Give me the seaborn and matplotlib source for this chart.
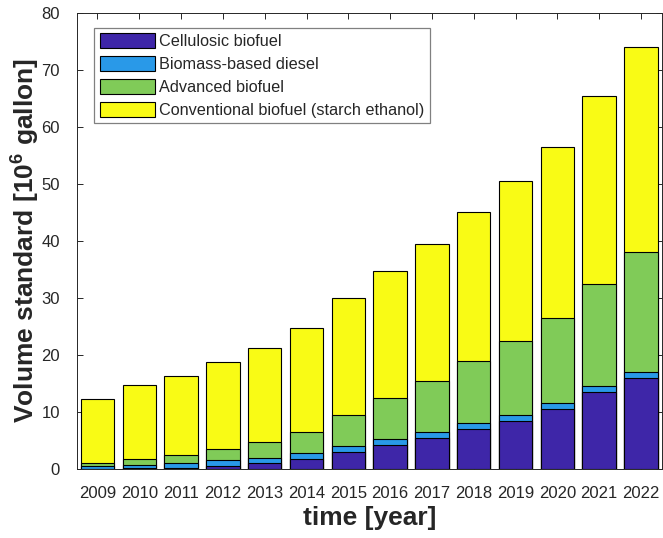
import numpy as np
import pandas as pd
import seaborn as sns
import matplotlib
import matplotlib.pyplot as plt
from matplotlib.patches import Patch

matplotlib.use('Agg')

# volume standards per year [10^6 gallon]
years = ['2009', '2010', '2011', '2012', '2013', '2014', '2015',
         '2016', '2017', '2018', '2019', '2020', '2021', '2022']
cellulosic = [0.0, 0.1, 0.25, 0.5, 1.0, 1.75, 3.0, 4.25, 5.5, 7.0, 8.5, 10.5, 13.5, 16.0]
biomass_diesel = [0.5, 0.65, 0.8, 1.0, 1.0, 1.0, 1.0, 1.0, 1.0, 1.0, 1.0, 1.0, 1.0, 1.0]
advanced = [0.6, 0.95, 1.35, 2.0, 2.75, 3.75, 5.5, 7.25, 9.0, 11.0, 13.0, 15.0, 18.0, 21.0]
conventional = [11.1, 12.95, 13.95, 15.2, 16.55, 18.15, 20.5, 22.25, 24.0, 26.0, 28.0, 30.0, 33.0, 36.0]

labels = ['Cellulosic biofuel', 'Biomass-based diesel', 'Advanced biofuel',
          'Conventional biofuel (starch ethanol)']
colors = ['#3e26a8', '#2999e8', '#80cb58', '#f9fb15']

sns.set_theme(style='ticks')
plt.rcParams['font.family'] = ['Liberation Sans', 'DejaVu Sans']
plt.rcParams['mathtext.fontset'] = 'custom'
plt.rcParams['mathtext.rm'] = 'Liberation Sans'
plt.rcParams['mathtext.bf'] = 'Liberation Sans:bold'

df = pd.DataFrame({'year': years, 'cel': cellulosic, 'bbd': biomass_diesel,
                   'adv': advanced, 'conv': conventional})
stack = df[['cel', 'bbd', 'adv', 'conv']].cumsum(axis=1)

fig = plt.figure(figsize=(6.63, 5.38), dpi=100)
ax = fig.add_axes([0.1154, 0.1283, 0.883, 0.8475])

# draw tallest layer first, then smaller cumulative layers on top
for col, c in reversed(list(zip(stack.columns, colors))):
    sns.barplot(x=df['year'], y=stack[col], color=c, saturation=1, width=0.8,
                edgecolor='black', linewidth=0.8, errorbar=None, ax=ax)

ax.set_xlim(-0.5, 13.5)
ax.set_ylim(0, 80)
ax.set_yticks(np.arange(0, 81, 10))

for s in ax.spines.values():
    s.set_visible(True)
    s.set_color('#262626')
    s.set_linewidth(0.7)
ax.tick_params(axis='both', direction='in', top=True, right=True, length=4.5,
               width=0.7, color='#262626', labelcolor='#262626', labelsize=12)
ax.tick_params(axis='x', pad=12)
ax.tick_params(axis='y', pad=12)

ax.set_xlabel('time [year]', fontsize=19, fontweight='bold', color='#262626',
              labelpad=4)
ax.set_ylabel(r'Volume standard [10$^{\mathbf{6}}$ gallon]', fontsize=19,
              fontweight='bold', color='#262626', labelpad=0.5)

handles = [Patch(facecolor=c, edgecolor='black', linewidth=0.8) for c in colors]
leg = ax.legend(handles, labels, loc='upper left', bbox_to_anchor=(0.0298, 0.9678),
                borderaxespad=0, fontsize=11.7, frameon=True, fancybox=False,
                framealpha=1, edgecolor='#808080', handlelength=3.4,
                handleheight=1.03, handletextpad=0.25, labelspacing=0.42,
                borderpad=0.35)
leg.get_frame().set_linewidth(0.9)

fig.savefig('out.png', dpi=100)
